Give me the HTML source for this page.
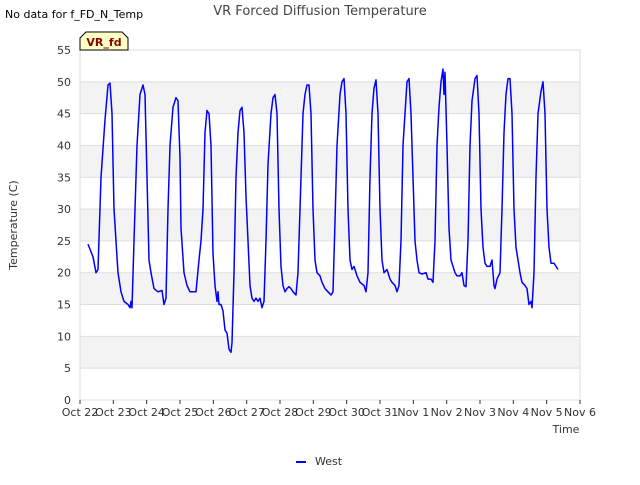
<!DOCTYPE html>
<html><head><meta charset="utf-8"><style>
body{margin:0;background:#fff;font-family:"Liberation Sans","DejaVu Sans",sans-serif}
svg text{font-family:"DejaVu Sans","Liberation Sans",sans-serif}
</style></head><body>
<svg id="chart" width="640" height="480" viewBox="0 0 640 480">
<text x="5" y="18" font-size="11" fill="#000">No data for f_FD_N_Temp</text>
<text x="320" y="15" font-size="13" fill="#444" text-anchor="middle">VR Forced Diffusion Temperature</text>
<g id="plot"></g>
<g>
<path d="M80,38 L86,32 L122,32 L128,38 L128,50 L80,50 Z" fill="#ffffc8" stroke="#000" stroke-width="1"/>
<text x="104" y="46" font-size="11" font-weight="bold" fill="#8b0000" text-anchor="middle">VR_fd</text>
</g>
<text x="566" y="433" font-size="11" fill="#333" text-anchor="middle">Time</text>
<text x="17" y="225" font-size="11" fill="#333" text-anchor="middle" transform="rotate(-90 17 225)">Temperature (C)</text>
<g>
<line x1="296" y1="462" x2="306" y2="462" stroke="#0000ff" stroke-width="2"/>
<text x="315" y="465" font-size="11" fill="#333">West</text>
</g>
</svg>
<script>
const xTickLabels=["Oct 22","Oct 23","Oct 24","Oct 25","Oct 26","Oct 27","Oct 28","Oct 29","Oct 30","Oct 31","Nov 1","Nov 2","Nov 3","Nov 4","Nov 5","Nov 6"];
const yTicks=[0,5,10,15,20,25,30,35,40,45,50,55];
const westDays=[0.24,0.39,0.48,0.54,0.63,0.75,0.84,0.9,0.96,1.02,1.08,1.14,1.23,1.32,1.44,1.5,1.53,1.56,1.62,1.71,1.8,1.89,1.95,2.01,2.07,2.13,2.22,2.34,2.46,2.52,2.58,2.64,2.7,2.79,2.88,2.94,3.0,3.03,3.12,3.21,3.3,3.42,3.48,3.57,3.63,3.69,3.75,3.81,3.87,3.93,3.99,4.05,4.11,4.14,4.17,4.23,4.29,4.35,4.41,4.47,4.53,4.56,4.62,4.68,4.74,4.8,4.86,4.92,4.98,5.04,5.1,5.16,5.22,5.28,5.34,5.4,5.46,5.52,5.58,5.64,5.73,5.79,5.85,5.91,5.97,6.03,6.09,6.15,6.21,6.27,6.33,6.39,6.48,6.54,6.63,6.69,6.75,6.81,6.87,6.93,6.99,7.05,7.11,7.2,7.26,7.35,7.44,7.53,7.59,7.65,7.71,7.8,7.86,7.92,7.98,8.04,8.1,8.16,8.22,8.31,8.4,8.52,8.58,8.64,8.7,8.76,8.82,8.88,8.94,9.0,9.06,9.12,9.21,9.3,9.36,9.45,9.51,9.57,9.63,9.69,9.75,9.81,9.87,9.93,9.99,10.05,10.11,10.17,10.26,10.38,10.44,10.53,10.59,10.65,10.71,10.77,10.83,10.89,10.92,10.95,11.01,11.07,11.13,11.19,11.25,11.31,11.4,11.46,11.52,11.58,11.64,11.7,11.76,11.85,11.91,11.97,12.03,12.09,12.15,12.21,12.3,12.36,12.42,12.45,12.51,12.6,12.66,12.72,12.78,12.84,12.9,12.96,13.02,13.08,13.14,13.2,13.26,13.35,13.41,13.47,13.53,13.56,13.62,13.68,13.74,13.83,13.89,13.95,14.01,14.07,14.13,14.22,14.28,14.34];
const westTemp=[24.5,22.5,20,20.5,35,44,49.5,49.8,45,30,25,20,17,15.5,15,14.5,15.5,14.5,25,40,48,49.5,48,35,22,20,17.5,17,17.2,15,16,30,40,46,47.5,47,38,27,20,18,17,17,17,22,25,30,42,45.5,45,40,23,18,15.5,17,15,15,14,11,10.5,8,7.5,9,20,35,42,45.5,46,42,32,25,18,16,15.5,16,15.5,16,14.5,15.5,25,37,45,47.5,48,45,30,21,18,17,17.5,17.8,17.5,17,16.5,20,35,45,48,49.5,49.5,45,30,22,20,19.5,18.5,17.5,17,16.5,17,28,40,48,50,50.5,45,30,22,20.5,21,19.5,18.5,18,17,20,35,45,49,50.3,45,30,22,20,20.5,19,18.5,18,17,18,25,40,45,50,50.5,45,35,25,22,20,19.8,20,19,19,18.5,25,40,46,50,52,48,51.5,40,27,22,21,20,19.5,19.5,20,18,17.8,25,40,47,50.5,51,45,30,24,21.5,21,21,22,18,17.5,19,20,30,42,48,50.5,50.5,45,30,24,22,20,18.5,18,17.5,15,15.5,14.5,20,35,45,48.5,50,45,30,24,21.5,21.5,21,20.5];
const NS="http://www.w3.org/2000/svg";
const L=80,R=580,T=50,B=400,yMax=55,nDays=15;
const xs=d=>L+d*(R-L)/nDays;
const ys=v=>B-v*(B-T)/yMax;
const plot=document.getElementById('plot');
function mk(tag,attrs){const e=document.createElementNS(NS,tag);for(const k in attrs)e.setAttribute(k,attrs[k]);plot.appendChild(e);return e;}
for(let i=0;i<yTicks.length-1;i++){
  if(i%2===1){const r=mk('rect',{x:L,y:ys(yTicks[i+1]),width:R-L,height:ys(yTicks[i])-ys(yTicks[i+1]),fill:'#f3f3f3'});
  
  }
}
yTicks.forEach(v=>{
  const g=mk('line',{x1:L,x2:R,y1:ys(v),y2:ys(v),stroke:'#dddddd','stroke-width':1});
  
  
  const t=mk('text',{x:L-9,y:ys(v)+4,'font-size':11,fill:'#333','text-anchor':'end'});
  t.textContent=v;
  
  
});
const frame=mk('rect',{x:L,y:T,width:R-L,height:B-T,fill:'none',stroke:'#dddddd'});


xTickLabels.forEach((lab,i)=>{
  const tk=mk('line',{x1:xs(i),x2:xs(i),y1:B,y2:B+4,stroke:'#333'});
  
  
  const t=mk('text',{x:xs(i),y:B+16,'font-size':11,fill:'#333','text-anchor':'middle'});
  t.textContent=lab;
  
  
});
const pts=westDays.map((d,i)=>xs(d).toFixed(1)+','+ys(westTemp[i]).toFixed(1)).join(' ');
const line=mk('polyline',{points:pts,fill:'none',stroke:'#0000ff','stroke-width':1.5,'stroke-linejoin':'round'});


</script>
</body></html>
